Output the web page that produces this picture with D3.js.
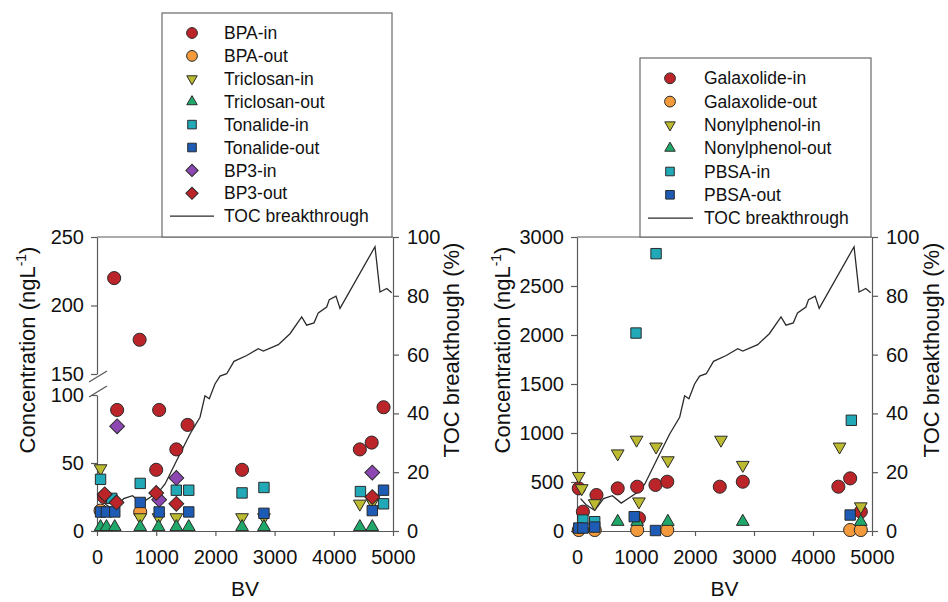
<!DOCTYPE html>
<html>
<head>
<meta charset="utf-8">
<script src="https://cdn.jsdelivr.net/npm/d3@7"></script>
<style>
  html, body { margin: 0; padding: 0; background: #fff; }
  svg { display: block; font-family: "Liberation Sans", Arial, sans-serif; }
  .axis path, .axis line { stroke: #5a5a5a; stroke-width: 1.2; }
  .axis text { font-size: 20px; fill: #111; font-family: "Liberation Sans", Arial, sans-serif; }
</style>
</head>
<body>
<svg id="chart" width="948" height="602"></svg>
<script>
// ---- Bed volumes and TOC breakthrough (shared by both panels) ----
const bvTicks = [0, 1000, 2000, 3000, 4000, 5000];
const tocBV  = [60, 150, 300, 450, 600, 750, 900, 1050, 1150, 1346, 1571, 1740, 1824, 1897, 1993, 2078, 2191, 2314, 2529, 2725, 2809, 3063, 3260, 3458, 3542, 3666, 3738, 3880, 3924, 4037, 4105, 4696, 4780, 4894, 4978];
const tocPct = [11, 9, 7, 11, 12, 9.5, 11.5, 13.5, 16, 24, 33, 38.7, 46, 45, 50, 52.7, 53.5, 57.7, 59.7, 62, 61.2, 63.4, 67.1, 72.8, 70, 70.8, 74.2, 76.2, 78.7, 79.9, 75.7, 96.7, 81.3, 82.5, 81];
const tocTicks = [0, 20, 40, 60, 80, 100];

// ---- Left panel: [BV, ng/L] ----
const leftTicksLow  = [0, 50, 100];
const leftTicksHigh = [150, 200, 250];
const bpaIn  = [[120, 25], [290, 220], [340, 89], [720, 175], [1000, 45], [1050, 89], [1340, 60], [1530, 78], [2450, 45], [4440, 60], [4640, 65], [4840, 91]];
const bpaOut = [[60, 15], [730, 14]];
const triclosanIn  = [[60, 46], [730, 10], [1040, 10], [1340, 10], [2450, 10], [2820, 10], [4440, 20], [4650, 21]];
const triclosanOut = [[60, 3], [160, 3], [300, 3], [730, 3], [1040, 3], [1340, 3], [1550, 3], [2450, 3], [2820, 3], [4440, 3], [4650, 3]];
const tonalideIn  = [[60, 38], [250, 24], [730, 35], [1340, 30], [1550, 30], [2450, 28], [2820, 32], [4450, 29], [4840, 20]];
const tonalideOut = [[60, 14], [160, 14], [300, 14], [730, 21], [1050, 14], [1550, 14], [2820, 13], [4650, 15], [4840, 30]];
const bp3In  = [[340, 77], [1050, 23], [1340, 39], [4650, 43]];
const bp3Out = [[130, 27], [330, 21], [1000, 28], [1340, 20], [4650, 25]];

// ---- Right panel: [BV, ng/L] ----
const rightTicks = [0, 500, 1000, 1500, 2000, 2500, 3000];
const galaxolideIn  = [[30, 435], [100, 197], [330, 367], [690, 435], [1020, 452], [1050, 130], [1330, 470], [1530, 503], [2420, 452], [2810, 503], [4430, 452], [4630, 537], [4810, 197]];
const galaxolideOut = [[30, 10], [300, 10], [1020, 10], [1530, 10], [4630, 10], [4810, 10]];
const nonylphenolIn  = [[30, 560], [80, 435], [300, 282], [690, 790], [1010, 930], [1050, 300], [1340, 860], [1540, 720], [2440, 930], [2810, 673], [4450, 860], [4810, 250]];
const nonylphenolOut = [[60, 40], [690, 95], [1020, 95], [1540, 95], [2810, 95], [4810, 95]];
const pbsaIn  = [[100, 112], [300, 95], [1000, 2020], [1340, 2830], [4650, 1130]];
const pbsaOut = [[30, 30], [100, 30], [300, 40], [970, 146], [1330, 5], [4630, 163]];

// ---- Marker styles ----
const RED = "#bb2429", ORANGE = "#f39a3d", OLIVE = "#bcba30", GREEN = "#20a86a",
      CYAN = "#21a9b8", BLUE = "#1d5bb5", PURPLE = "#8d47b3";
const shapes = {
  circle:   { type: d3.symbolCircle,   size: 135, rot: 0 },
  down:     { type: d3.symbolTriangle, size: 70,  rot: 180 },
  up:       { type: d3.symbolTriangle, size: 70,  rot: 0 },
  square:   { type: d3.symbolSquare,   size: 108, rot: 0 },
  diamond:  { type: d3.symbolSquare,   size: 110, rot: 45 }
};

const leftSeries = [
  { name: "BPA-in",        data: bpaIn,        shape: "circle",  color: RED },
  { name: "BPA-out",       data: bpaOut,       shape: "circle",  color: ORANGE },
  { name: "Triclosan-in",  data: triclosanIn,  shape: "down",    color: OLIVE },
  { name: "Triclosan-out", data: triclosanOut, shape: "up",      color: GREEN },
  { name: "Tonalide-in",   data: tonalideIn,   shape: "square",  color: CYAN },
  { name: "Tonalide-out",  data: tonalideOut,  shape: "square",  color: BLUE },
  { name: "BP3-in",        data: bp3In,        shape: "diamond", color: PURPLE },
  { name: "BP3-out",       data: bp3Out,       shape: "diamond", color: RED }
];
const rightSeries = [
  { name: "Galaxolide-in",   data: galaxolideIn,   shape: "circle", color: RED },
  { name: "Galaxolide-out",  data: galaxolideOut,  shape: "circle", color: ORANGE },
  { name: "Nonylphenol-in",  data: nonylphenolIn,  shape: "down",   color: OLIVE },
  { name: "Nonylphenol-out", data: nonylphenolOut, shape: "up",     color: GREEN },
  { name: "PBSA-in",         data: pbsaIn,         shape: "square", color: CYAN },
  { name: "PBSA-out",        data: pbsaOut,        shape: "square", color: BLUE }
];

const svg = d3.select("#chart");
const TOP = 237, BOTTOM = 531, LABEL_MID = 350;

function marker(sel, shapeKey, color, scale) {
  const s = shapes[shapeKey];
  sel.append("path")
    .attr("d", d3.symbol().type(s.type).size(s.size * (scale || 1))())
    .attr("transform", `rotate(${s.rot})`)
    .attr("fill", color)
    .attr("stroke", "#2a2a2a")
    .attr("stroke-width", 1);
}

function drawPanel(cfg) {
  const g = svg.append("g");
  const x = d3.scaleLinear().domain([0, 5000]).range([cfg.x0, cfg.x1]);
  const yToc = d3.scaleLinear().domain([0, 100]).range([BOTTOM, TOP]);

  // frame top
  g.append("line").attr("x1", cfg.x0).attr("x2", cfg.x1).attr("y1", TOP).attr("y2", TOP)
    .attr("stroke", "#5a5a5a").attr("stroke-width", 1.2);

  // x axis
  g.append("g").attr("class", "axis").attr("transform", `translate(0,${BOTTOM})`)
    .call(d3.axisBottom(x).tickValues(bvTicks).tickFormat(d3.format("d")).tickSize(5).tickSizeOuter(0).tickPadding(14));

  // left concentration axis (possibly broken)
  cfg.yAxes.forEach(a => {
    g.append("g").attr("class", "axis").attr("transform", `translate(${cfg.x0},0)`)
      .call(d3.axisLeft(a.scale).tickValues(a.ticks).tickFormat(d3.format("d")).tickSize(6).tickSizeOuter(0).tickPadding(7));
  });

  // right TOC axis
  g.append("g").attr("class", "axis").attr("transform", `translate(${cfg.x1},0)`)
    .call(d3.axisRight(yToc).tickValues(tocTicks).tickSize(6).tickSizeOuter(0).tickPadding(8));

  if (cfg.breakAt) {
    // axis break marks
    cfg.breakAt.forEach(yb => {
      g.append("line").attr("x1", cfg.x0 - 8).attr("y1", yb + 5).attr("x2", cfg.x0 + 10).attr("y2", yb - 6)
        .attr("stroke", "#5a5a5a").attr("stroke-width", 1.3);
    });
  }

  // TOC breakthrough line
  const line = d3.line().x((d, i) => x(tocBV[i])).y(d => yToc(d));
  g.append("path").datum(tocPct).attr("d", line)
    .attr("fill", "none").attr("stroke", "#2b2b2b").attr("stroke-width", 1.3);

  // data markers
  cfg.series.forEach(s => {
    s.data.forEach(d => {
      const m = g.append("g").attr("transform", `translate(${x(d[0])},${cfg.y(d[1])})`);
      marker(m, s.shape, s.color);
    });
  });

  // axis titles
  const yt = g.append("text").attr("transform", `translate(${cfg.yLabelX},${LABEL_MID}) rotate(-90)`)
    .attr("text-anchor", "middle").attr("dy", "0.35em").attr("font-size", 22).attr("fill", "#111");
  yt.append("tspan").text("Concentration (ngL");
  yt.append("tspan").text("-1").attr("font-size", 14).attr("dy", "-0.6em");
  yt.append("tspan").text(")").attr("dy", "0.38em");

  g.append("text").attr("transform", `translate(${cfg.tocLabelX},${LABEL_MID}) rotate(-90)`)
    .attr("text-anchor", "middle").attr("dy", "0.35em").attr("font-size", 22).attr("fill", "#111")
    .text("TOC breakthough (%)");

  g.append("text").attr("x", (cfg.x0 + cfg.x1) / 2).attr("y", 589).attr("dy", "0.35em")
    .attr("text-anchor", "middle").attr("font-size", 21).attr("fill", "#111").text("BV");

  // legend
  const L = cfg.legend;
  const lg = svg.append("g");
  lg.append("rect").attr("x", L.x).attr("y", L.y).attr("width", L.w).attr("height", TOP - L.y)
    .attr("fill", "#fff").attr("stroke", "#6a6a6a").attr("stroke-width", 1.2);
  cfg.series.forEach((s, i) => {
    const yy = L.first + i * L.step;
    const m = lg.append("g").attr("transform", `translate(${L.mx},${yy})`);
    marker(m, s.shape, s.color, 0.68);
    lg.append("text").attr("x", L.tx).attr("y", yy).attr("dy", "0.35em")
      .attr("font-size", 17.5).attr("fill", "#111").text(s.name);
  });
  const ty = L.first + cfg.series.length * L.step;
  lg.append("line").attr("x1", L.lx0).attr("x2", L.lx1).attr("y1", ty).attr("y2", ty)
    .attr("stroke", "#2b2b2b").attr("stroke-width", 1.3);
  lg.append("text").attr("x", L.tx).attr("y", ty).attr("dy", "0.35em")
    .attr("font-size", 17.5).attr("fill", "#111").text("TOC breakthrough");
}

// Left panel: broken concentration axis
const yLow  = d3.scaleLinear().domain([0, 100]).range([BOTTOM, 395]);
const yHigh = d3.scaleLinear().domain([150, 250]).range([374, TOP]);
drawPanel({
  x0: 97, x1: 393,
  y: v => (v <= 125 ? yLow(v) : yHigh(v)),
  yAxes: [{ scale: yLow, ticks: leftTicksLow }, { scale: yHigh, ticks: leftTicksHigh }],
  breakAt: [377, 392],
  series: leftSeries,
  yLabelX: 27, tocLabelX: 451,
  legend: { x: 162, y: 13, w: 230, first: 33, step: 22.9, mx: 192, tx: 224, lx0: 170, lx1: 214 }
});

// Right panel
const yRight = d3.scaleLinear().domain([0, 3000]).range([BOTTOM, TOP]);
drawPanel({
  x0: 577, x1: 872,
  y: yRight,
  yAxes: [{ scale: yRight, ticks: rightTicks }],
  series: rightSeries,
  yLabelX: 502, tocLabelX: 931,
  legend: { x: 640, y: 58, w: 231, first: 78.3, step: 23.3, mx: 670, tx: 704, lx0: 648, lx1: 693 }
});
</script>
</body>
</html>
